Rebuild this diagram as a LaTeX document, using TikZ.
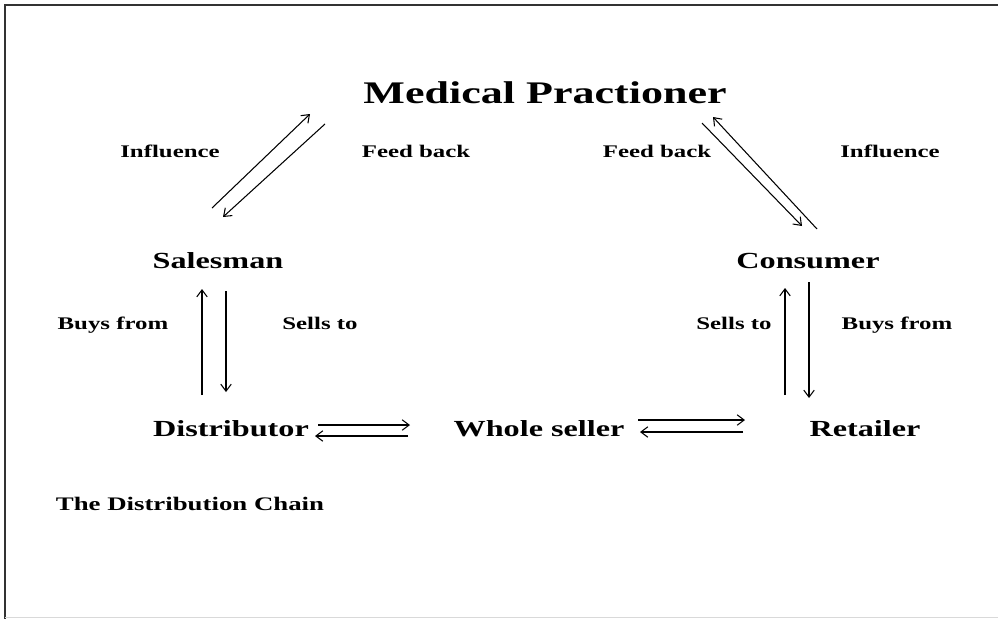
\documentclass[tikz,border=0pt]{standalone}
\usepackage{fontspec}
\setmainfont{Liberation Serif}[FakeStretch=1.4]
\usetikzlibrary{arrows.meta,calc}
\begin{document}
\begin{tikzpicture}[x=0.02cm,y=-0.02cm,
  actor/.style={inner sep=0,anchor=base,font=\fontsize{13.1}{15}\selectfont\bfseries},
  rel/.style={inner sep=0,anchor=base,font=\fontsize{10.1}{12}\selectfont\bfseries},
  flow/.style={line width=0.6pt,-{Straight Barb[length=4pt,width=6pt]}}]
\useasboundingbox (0,0) rectangle (998,619);
\draw[line width=1.2pt,black!80] (5,619) -- (5,5) -- (998,5);
\draw[black!15] (5,617.5) -- (998,617.5);
% actors
\node[actor,font=\fontsize{17.9}{20}\selectfont\bfseries] (med) at (545,103) {Medical Practioner};
\node[actor] (sal) at (218,268) {Salesman};
\node[actor] (cons) at (808,268) {Consumer};
\node[actor] (dist) at (231,436) {Distributor};
\node[actor] (ws) at (539,436) {Whole seller};
\node[actor] (ret) at (865,436) {Retailer};
% relations
\node[rel] (infl1) at (170,157) {Influence};
\node[rel] (fb1) at (416,157) {Feed back};
\node[rel] (fb2) at (657,157) {Feed back};
\node[rel] (infl2) at (890,157) {Influence};
\node[rel] (buy1) at (113,329) {Buys from};
\node[rel] (sell1) at (320,329) {Sells to};
\node[rel] (sell2) at (734,329) {Sells to};
\node[rel] (buy2) at (897,329) {Buys from};
\node[rel,font=\fontsize{10.9}{13}\selectfont\bfseries] (chain) at (190,510) {The Distribution Chain};
% arrows
\draw[flow] ($(sal.base)+(-6,-60)$) -- ($(med.base)+(-235,11)$);
\draw[flow] ($(med.base)+(-220,21)$) -- ($(sal.base)+(5,-51)$);
\draw[flow] ($(med.base)+(157,20)$) -- ($(cons.base)+(-6,-42)$);
\draw[flow] ($(cons.base)+(9,-39)$) -- ($(med.base)+(168,14)$);
\draw[flow] ($(dist.base)+(-29,-41)$) -- ($(sal.base)+(-16,21)$);
\draw[flow] ($(sal.base)+(8,23)$) -- ($(dist.base)+(-5,-44)$);
\draw[flow] ($(ret.base)+(-80,-41)$) -- ($(cons.base)+(-23,20)$);
\draw[flow] ($(cons.base)+(1,14)$) -- ($(ret.base)+(-56,-38)$);
\draw[flow] ($(dist.base)+(87,-11)$) -- ($(ws.base)+(-129,-11)$);
\draw[flow] ($(ws.base)+(-131,0)$) -- ($(dist.base)+(84,0)$);
\draw[flow] ($(ws.base)+(99,-16)$) -- ($(ret.base)+(-120,-16)$);
\draw[flow] ($(ret.base)+(-122,-4)$) -- ($(ws.base)+(101,-4)$);
\end{tikzpicture}
\end{document}
